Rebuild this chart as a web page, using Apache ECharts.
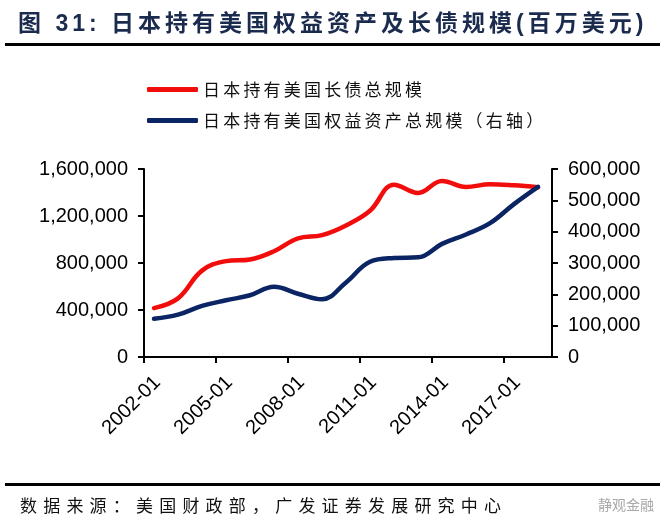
<!DOCTYPE html>
<html>
<head>
<meta charset="utf-8">
<script src="https://cdn.jsdelivr.net/npm/echarts@6/dist/echarts.min.js"></script>
<style>
  html, body { margin: 0; padding: 0; background: #fff; }
  #wrap { position: relative; width: 667px; height: 527px; overflow: hidden; background: #fff; }
  #chart { position: absolute; left: 0; top: 0; width: 667px; height: 527px; }
  .title { position: absolute; left: 18px; top: 6px; font-family: "Liberation Sans", "Noto Sans CJK SC", sans-serif; font-weight: bold; font-size: 23px; letter-spacing: 4px; color: #1b2b4e; white-space: nowrap; line-height: 34px; }
  .rule { position: absolute; left: 5px; width: 655px; height: 3px; background: #000; }
  .source { position: absolute; left: 20px; top: 492px; font-family: "Noto Sans CJK SC", sans-serif; font-size: 17px; letter-spacing: 6.2px; color: #111; white-space: nowrap; line-height: 26px; }
  .mark { position: absolute; left: 598px; top: 494px; font-family: "Noto Sans CJK SC", sans-serif; font-size: 14px; color: #a8a8a8; white-space: nowrap; line-height: 20px; }
</style>
</head>
<body>
<div id="wrap">
  <div id="chart"></div>
  <div class="title">图 31: 日本持有美国权益资产及长债规模(百万美元)</div>
  <div class="rule" style="top:43px"></div>
  <div class="rule" style="top:483px"></div>
  <div class="source">数据来源：美国财政部，广发证券发展研究中心</div>
  <div class="mark">静观金融</div>
</div>
<script>
// Survey dates (annual, June)
const dates = ['2002-06','2003-06','2004-06','2005-06','2006-06','2007-06','2008-06','2009-06','2010-06',
               '2011-06','2012-06','2013-06','2014-06','2015-06','2016-06','2017-06','2018-06'];
// Japan's holdings of US long-term debt (USD mn, left axis)
const debtValues = [416000, 499000, 735000, 816000, 830000, 900000, 1009000, 1037000, 1120000,
                    1245000, 1467000, 1396000, 1498000, 1447000, 1470000, 1461000, 1445000];
// Japan's holdings of US equities (USD mn, right axis)
const equityValues = [122000, 135000, 163000, 181000, 197000, 224000, 202000, 184000, 238000,
                      304000, 316000, 318000, 361000, 391000, 427000, 488000, 543000];
const seriesNames = ['日本持有美国长债总规模', '日本持有美国权益资产总规模（右轴）'];
const xStart = '2002-01';
const xEnd = '2019-01';

function monthIndex(s) {
  const [y, m] = s.split('-').map(Number);
  const [y0, m0] = xStart.split('-').map(Number);
  return (y - y0) * 12 + (m - m0);
}
const fmt = v => Number(v).toLocaleString('en-US');
const debtData = dates.map((d, i) => [monthIndex(d), debtValues[i]]);
const equityData = dates.map((d, i) => [monthIndex(d), equityValues[i]]);

const chart = echarts.init(document.getElementById('chart'), null, { renderer: 'canvas' });
const axisCommon = {
  axisLine: { show: true, lineStyle: { color: '#000', width: 2 } },
  axisTick: { show: true, length: 6, lineStyle: { color: '#000', width: 2 } },
  splitLine: { show: false }
};
chart.setOption({
  animation: false,
  backgroundColor: 'transparent',
  legend: {
    orient: 'vertical',
    left: 142,
    top: 76,
    itemWidth: 51,
    itemHeight: 5,
    itemGap: 14,
    icon: 'roundRect',
    formatter: name => name.split('').map(ch => '{c|' + ch + '}').join(''),
    textStyle: {
      rich: { c: { width: 20.2, fontSize: 17, lineHeight: 22, color: '#111', fontFamily: '"Noto Sans CJK SC", sans-serif' } }
    },
    data: seriesNames
  },
  grid: { left: 144, right: 115, top: 169, bottom: 170, containLabel: false },
  xAxis: Object.assign({}, axisCommon, {
    type: 'value',
    min: 0,
    max: monthIndex(xEnd),
    interval: 36,
    axisLabel: {
      rotate: 45,
      margin: 9,
      color: '#000',
      showMaxLabel: false,
      formatter: v => '{t|' + (Number(xStart.slice(0, 4)) + Math.round(v / 12)) + '-01}',
      rich: { t: { padding: [38, 0, 0, 0], fontSize: 20, color: '#000', fontFamily: '"Liberation Sans", Arial, sans-serif' } }
    }
  }),
  yAxis: [
    Object.assign({}, axisCommon, {
      type: 'value', min: 0, max: 1600000, interval: 400000, position: 'left',
      axisLabel: { margin: 16, fontSize: 20, color: '#000', fontFamily: '"Liberation Sans", Arial, sans-serif', formatter: fmt }
    }),
    Object.assign({}, axisCommon, {
      type: 'value', min: 0, max: 600000, interval: 100000, position: 'right',
      axisLabel: { margin: 16, fontSize: 20, color: '#000', fontFamily: '"Liberation Sans", Arial, sans-serif', formatter: fmt }
    })
  ],
  series: [
    {
      name: seriesNames[0], type: 'line', yAxisIndex: 0, data: debtData,
      smooth: 0.4, symbol: 'none', color: '#f20d0d',
      lineStyle: { width: 4.5, color: '#f20d0d', cap: 'round', join: 'round' }
    },
    {
      name: seriesNames[1], type: 'line', yAxisIndex: 1, data: equityData,
      smooth: 0.4, symbol: 'none', color: '#0a2464',
      lineStyle: { width: 4.5, color: '#0a2464', cap: 'round', join: 'round' }
    }
  ]
});
</script>
</body>
</html>
